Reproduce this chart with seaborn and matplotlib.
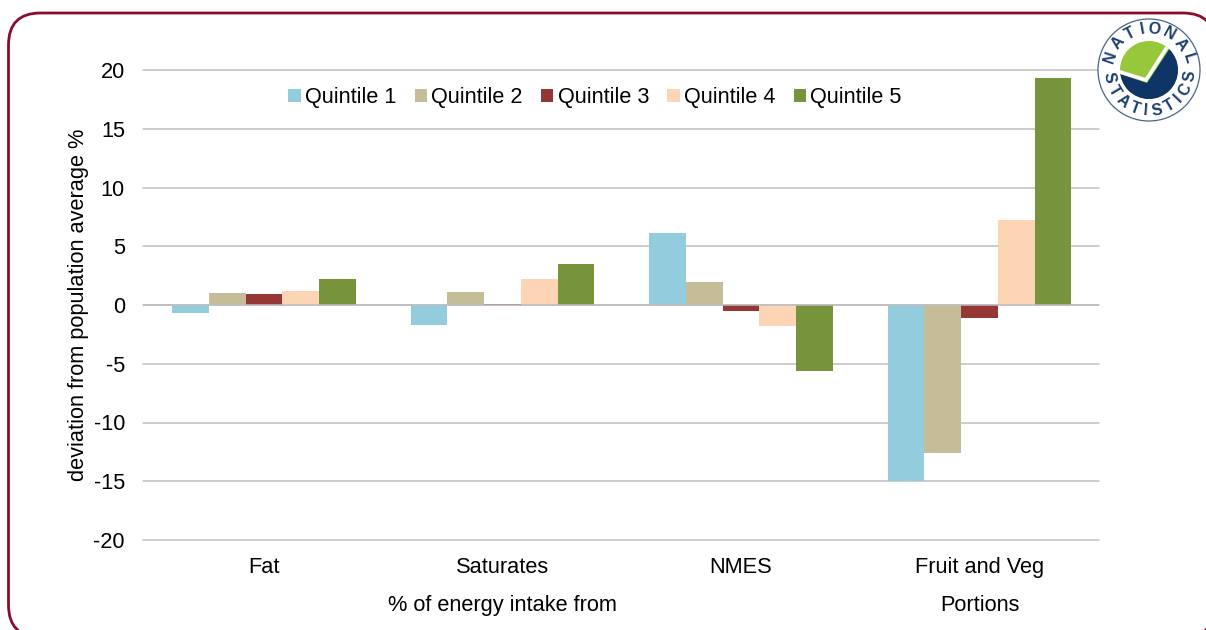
import numpy as np
import pandas as pd
import matplotlib
matplotlib.use("Agg")
import matplotlib.pyplot as plt
from matplotlib.patches import FancyBboxPatch, Circle, Polygon, Patch
import seaborn as sns

categories = ["Fat", "Saturates", "NMES", "Fruit and Veg"]
quintiles = ["Quintile 1", "Quintile 2", "Quintile 3", "Quintile 4", "Quintile 5"]
q1 = [-0.7, -1.7, 6.1, -15.0]
q2 = [1.0, 1.1, 2.0, -12.6]
q3 = [0.9, 0.1, -0.5, -1.1]
q4 = [1.2, 2.2, -1.8, 7.2]
q5 = [2.2, 3.5, -5.6, 19.3]
colors = ["#93CDDD", "#C4BD97", "#953735", "#FCD5B5", "#77933C"]
yticks = [-20, -15, -10, -5, 0, 5, 10, 15, 20]

W, H = 1206, 630
sns.set_theme(style="white")
plt.rcParams["font.family"] = ["Liberation Sans", "DejaVu Sans"]
FS = 15.7

rows = []
for name, vals in zip(quintiles, [q1, q2, q3, q4, q5]):
    for c, v in zip(categories, vals):
        rows.append({"category": c, "quintile": name, "value": v})
df = pd.DataFrame(rows)

fig = plt.figure(figsize=(W / 100, H / 100), dpi=100, facecolor="white")

# page frame, in pixel coordinates
bg = fig.add_axes([0, 0, 1, 1], zorder=0)
bg.set_xlim(0, W); bg.set_ylim(H, 0); bg.axis("off")
r = 32
bg.add_patch(FancyBboxPatch((8.5 + r, 13 + r), 1215 - 8.5 - 2 * r, 637 - 13 - 2 * r,
                            boxstyle=f"round,pad={r},rounding_size={r}",
                            fc="white", ec="#8A0B2E", lw=2.0))

x0, x1, ytop, ybot = 143, 1099, 70, 540
ax = fig.add_axes([x0 / W, 1 - ybot / H, (x1 - x0) / W, (ybot - ytop) / H], zorder=1)
ax.patch.set_alpha(0)
sns.barplot(data=df, x="category", y="value", hue="quintile", order=categories,
            hue_order=quintiles, palette=colors, width=0.77, gap=0, saturation=1,
            ax=ax, zorder=2, linewidth=0, legend=False)
ax.set_ylim(-20, 20)
ax.set_xlim(-0.507, 3.501)
ax.set_yticks(yticks)
ax.set_yticklabels([str(t) for t in yticks], fontsize=FS, color="black", va="center_baseline")
ax.set_xlabel(""); ax.set_ylabel("")
ax.tick_params(axis="both", length=0)
ax.tick_params(axis="y", pad=13)
ax.tick_params(axis="x", pad=12.5, labelsize=FS, labelcolor="black")
for s in ax.spines.values():
    s.set_visible(False)
ax.yaxis.grid(True, color="#BEBEBE", lw=1.1, zorder=1)
for g in ax.get_ygridlines():
    g.set_clip_on(False)
ax.set_axisbelow(True)
ax.axhline(0, color="#BEBEBE", lw=1.1, zorder=3)

fig.text(79 / W, 1 - 304.5 / H, "deviation from population average %", rotation=90,
         ha="center", va="center", fontsize=FS, color="black")
label_y = -(611 - ybot) / (ybot - ytop)
ax.text(1.0, label_y, "% of energy intake from", transform=ax.get_xaxis_transform(),
        ha="center", va="baseline", fontsize=FS, color="black")
ax.text(3.0, label_y, "Portions", transform=ax.get_xaxis_transform(),
        ha="center", va="baseline", fontsize=FS, color="black")

handles = [Patch(fc=c, ec="none", label=q) for c, q in zip(colors, quintiles)]
ax.legend(handles=handles, loc="center", bbox_to_anchor=((595 - x0) / (x1 - x0), (ybot - 98) / (ybot - ytop)),
          ncol=5, frameon=False, fontsize=15.6, labelcolor="black", handlelength=0.56, handleheight=0.56,
          handletextpad=0.2, columnspacing=0.85, borderpad=0, borderaxespad=0)

# National Statistics roundel
cx, cy = 1149, 70
logo = fig.add_axes([0, 0, 1, 1], zorder=3)
logo.set_xlim(0, W); logo.set_ylim(H, 0); logo.axis("off"); logo.patch.set_alpha(0)
logo.add_patch(Circle((cx, cy), 51, fc="white", ec="#4A6585", lw=0.9))
logo.add_patch(Circle((cx, cy), 29, fc="#97C83C", ec="none"))
disc = Circle((cx, cy), 29, transform=logo.transData, fc="none", ec="none")
logo.add_patch(disc)
navy = Polygon([(cx - 32, cy + 3), (cx - 2, cy + 13), (cx + 23, cy - 25),
                (cx + 33, cy - 10), (cx + 33, cy + 33), (cx - 33, cy + 33)],
               fc="#0F3466", ec="none")
logo.add_patch(navy); navy.set_clip_path(disc)
tick, = logo.plot([cx - 32, cx - 3, cx + 20], [cy + 1, cy + 10, cy - 26],
                  color="white", lw=2.6, solid_joinstyle="miter")
tick.set_clip_path(disc)


def arc_text(word, start, end, top):
    weights = np.array([0.55 if ch == "I" else 1.0 for ch in word])
    pos = np.cumsum((weights[:-1] + weights[1:]) / 2)
    pos = np.concatenate([[0], pos]) / pos[-1]
    for ch, p in zip(word, pos):
        a = start + (end - start) * p
        rad = np.deg2rad(a)
        x = cx + 41 * np.cos(rad)
        y = cy - 41 * np.sin(rad)
        rot = a - 90 if top else a + 90
        logo.text(x, y, ch, fontsize=11.5, color="#1B3F6B", ha="center", va="center",
                  rotation=rot, rotation_mode="anchor", fontweight="bold")


arc_text("NATIONAL", 161, 17, True)
arc_text("STATISTICS", 191, 351, False)

fig.savefig("out.png", dpi=100)
